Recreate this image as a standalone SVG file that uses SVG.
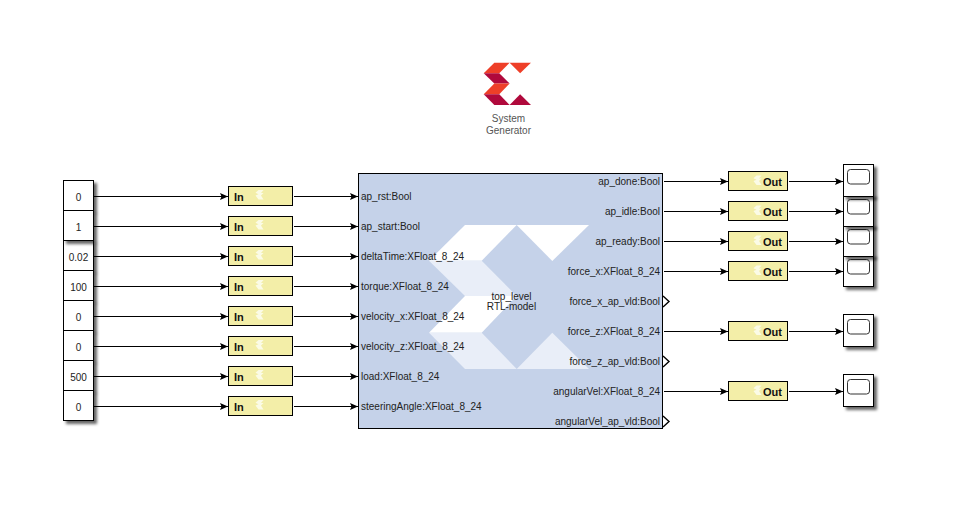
<svg xmlns="http://www.w3.org/2000/svg" width="957" height="515" viewBox="0 0 957 515">
<style>
text{font-family:"Liberation Sans",Arial,sans-serif;font-size:10px;fill:#222}
.m{text-anchor:middle}.e{text-anchor:end}
.k{fill:#fff;stroke:#000;stroke-width:1;filter:url(#s)}
.y{fill:#f3eea8;stroke:#000;stroke-width:1}
.b{font-weight:bold;font-size:11px;fill:#111}
.w{fill:#fff;stroke:#333;stroke-width:1}
.c{fill:none;stroke:#000;stroke-width:1;marker-end:url(#a)}
.p{fill:none;stroke:#000;stroke-width:1.4}
.eps{fill:#fbfbe6}
.g{font-size:10px;fill:#555}
</style>
<defs>
<filter id="s" x="-20%" y="-20%" width="150%" height="150%"><feDropShadow dx="3" dy="3" stdDeviation="1.800" flood-color="#000" flood-opacity=".6"/></filter>
<marker id="a" markerUnits="userSpaceOnUse" markerWidth="8" markerHeight="8" refX="8" refY="4" orient="auto"><path d="M0 .5L8 4L0 7.500L1.500 4Z" fill="#000"/></marker>
<path id="ep" class="eps" d="M3 0H8L5.500 3H8L5.500 5.500L8 9.500H3L0 5.500L3 4.300L0 2.800Z"/>
</defs>
<rect width="957" height="515" fill="#fff"/>
<g id="logo">
<g transform="translate(483.7 62.7) scale(.2955 .294) translate(-429 -225)">
<polygon fill="#ee3f28" points="465,225 516.700,225 481.700,260.700 429,260.700"/>
<polygon fill="#b0093c" points="429,260.700 481.700,260.700 516.700,296 465,296"/>
<polygon fill="#ee3f28" points="465,296 516.700,296 481.700,332.700 429,332.700"/>
<polygon fill="#b0093c" points="429,332.700 481.700,332.700 516.700,369 465,369"/>
<polygon fill="#ee3f28" points="516.700,225 589,225 552.300,261"/>
<polygon fill="#b0093c" points="552.300,332.700 589,369 516.700,369"/>
</g>
<text class="m g" x="508.500" y="121.500">System</text>
<text class="m g" x="508.500" y="133.500">Generator</text>
</g>
<g id="connectors">
<path class="c" d="M94 196.500H228"/><path class="c" d="M94 226.500H228"/><path class="c" d="M94 256.500H228"/><path class="c" d="M94 286.500H228"/><path class="c" d="M94 316.500H228"/><path class="c" d="M94 346.500H228"/><path class="c" d="M94 376.500H228"/><path class="c" d="M94 406.500H228"/>
<path class="c" d="M294 196.500H358"/><path class="c" d="M294 226.500H358"/><path class="c" d="M294 256.500H358"/><path class="c" d="M294 286.500H358"/><path class="c" d="M294 316.500H358"/><path class="c" d="M294 346.500H358"/><path class="c" d="M294 376.500H358"/><path class="c" d="M294 406.500H358"/>
<path class="c" d="M664 181.500H728"/><path class="c" d="M664 211.500H728"/><path class="c" d="M664 241.500H728"/><path class="c" d="M664 271.500H728"/><path class="c" d="M664 331.500H728"/><path class="c" d="M664 391.500H728"/>
<path class="c" d="M789 181.500H843"/><path class="c" d="M789 211.500H843"/><path class="c" d="M789 241.500H843"/><path class="c" d="M789 271.500H843"/><path class="c" d="M789 331.500H843"/><path class="c" d="M789 391.500H843"/>
</g>
<g id="const3"><rect class="k" x="63.500" y="240.500" width="30" height="30"/><text class="m" x="78.500" y="260.500">0.02</text></g>
<g id="const4"><rect class="k" x="63.500" y="270.500" width="30" height="30"/><text class="m" x="78.500" y="290.500">100</text></g>
<g id="const5"><rect class="k" x="63.500" y="300.500" width="30" height="30"/><text class="m" x="78.500" y="320.500">0</text></g>
<g id="const6"><rect class="k" x="63.500" y="330.500" width="30" height="30"/><text class="m" x="78.500" y="350.500">0</text></g>
<g id="const7"><rect class="k" x="63.500" y="360.500" width="30" height="30"/><text class="m" x="78.500" y="380.500">500</text></g>
<g id="const8"><rect class="k" x="63.500" y="390.500" width="30" height="30"/><text class="m" x="78.500" y="410.500">0</text></g>
<g id="const1"><rect class="k" x="63.500" y="180.500" width="30" height="30"/><text class="m" x="78.500" y="200.500">0</text></g>
<g id="const2"><rect class="k" x="63.500" y="210.500" width="30" height="30"/><text class="m" x="78.500" y="230.500">1</text></g>
<g id="in1"><rect class="y" x="228.500" y="186.500" width="64" height="19"/><use href="#ep" x="255.500" y="190"/><text class="b" x="234" y="200.500">In</text></g>
<g id="in2"><rect class="y" x="228.500" y="216.500" width="64" height="19"/><use href="#ep" x="255.500" y="220"/><text class="b" x="234" y="230.500">In</text></g>
<g id="in3"><rect class="y" x="228.500" y="246.500" width="64" height="19"/><use href="#ep" x="255.500" y="250"/><text class="b" x="234" y="260.500">In</text></g>
<g id="in4"><rect class="y" x="228.500" y="276.500" width="64" height="19"/><use href="#ep" x="255.500" y="280"/><text class="b" x="234" y="290.500">In</text></g>
<g id="in5"><rect class="y" x="228.500" y="306.500" width="64" height="19"/><use href="#ep" x="255.500" y="310"/><text class="b" x="234" y="320.500">In</text></g>
<g id="in6"><rect class="y" x="228.500" y="336.500" width="64" height="19"/><use href="#ep" x="255.500" y="340"/><text class="b" x="234" y="350.500">In</text></g>
<g id="in7"><rect class="y" x="228.500" y="366.500" width="64" height="19"/><use href="#ep" x="255.500" y="370"/><text class="b" x="234" y="380.500">In</text></g>
<g id="in8"><rect class="y" x="228.500" y="396.500" width="64" height="19"/><use href="#ep" x="255.500" y="400"/><text class="b" x="234" y="410.500">In</text></g>
<g id="top_level">
<rect x="358.500" y="173.500" width="304" height="255" fill="#c5d2e9" stroke="#000"/>
<polygon fill="#fff" points="465,225 516.700,225 481.700,260.700 429,260.700"/>
<polygon fill="#e9eef8" points="429,260.700 481.700,260.700 516.700,296 465,296"/>
<polygon fill="#fff" points="465,296 516.700,296 481.700,332.700 429,332.700"/>
<polygon fill="#e9eef8" points="429,332.700 481.700,332.700 516.700,369 465,369"/>
<polygon fill="#fff" points="516.700,225 589,225 552.300,261"/>
<polygon fill="#e9eef8" points="552.300,332.700 589,369 516.700,369"/>
<text x="361" y="200">ap_rst:Bool</text>
<text x="361" y="230">ap_start:Bool</text>
<text x="361" y="260">deltaTime:XFloat_8_24</text>
<text x="361" y="290">torque:XFloat_8_24</text>
<text x="361" y="320">velocity_x:XFloat_8_24</text>
<text x="361" y="350">velocity_z:XFloat_8_24</text>
<text x="361" y="380">load:XFloat_8_24</text>
<text x="361" y="410">steeringAngle:XFloat_8_24</text>
<text class="e" x="660" y="185">ap_done:Bool</text>
<text class="e" x="660" y="215">ap_idle:Bool</text>
<text class="e" x="660" y="245">ap_ready:Bool</text>
<text class="e" x="660" y="275">force_x:XFloat_8_24</text>
<text class="e" x="660" y="305">force_x_ap_vld:Bool</text>
<text class="e" x="660" y="335">force_z:XFloat_8_24</text>
<text class="e" x="660" y="365">force_z_ap_vld:Bool</text>
<text class="e" x="660" y="395">angularVel:XFloat_8_24</text>
<text class="e" x="660" y="425">angularVel_ap_vld:Bool</text>
<text class="m" x="511.500" y="300">top_level</text>
<text class="m" x="511.500" y="310">RTL-model</text>
<path class="p" d="M663 296L669 301.500L663 307"/>
<path class="p" d="M663 356L669 361.500L663 367"/>
<path class="p" d="M663 416L669 421.500L663 427"/>
</g>
<g id="out1"><rect class="y" x="728.500" y="171.500" width="59" height="19"/><use href="#ep" x="753.500" y="175.500"/><text class="b" x="763" y="186">Out</text></g>
<g id="out2"><rect class="y" x="728.500" y="201.500" width="59" height="19"/><use href="#ep" x="753.500" y="205.500"/><text class="b" x="763" y="216">Out</text></g>
<g id="out3"><rect class="y" x="728.500" y="231.500" width="59" height="19"/><use href="#ep" x="753.500" y="235.500"/><text class="b" x="763" y="246">Out</text></g>
<g id="out4"><rect class="y" x="728.500" y="261.500" width="59" height="19"/><use href="#ep" x="753.500" y="265.500"/><text class="b" x="763" y="276">Out</text></g>
<g id="out5"><rect class="y" x="728.500" y="321.500" width="59" height="19"/><use href="#ep" x="753.500" y="325.500"/><text class="b" x="763" y="336">Out</text></g>
<g id="out6"><rect class="y" x="728.500" y="381.500" width="59" height="19"/><use href="#ep" x="753.500" y="385.500"/><text class="b" x="763" y="396">Out</text></g>
<g id="scope4"><rect class="k" x="843.500" y="254.500" width="30" height="32"/><rect class="w" x="847.500" y="259.500" width="22" height="14.500" rx="3"/></g>
<g id="scope3"><rect class="k" x="843.500" y="224.500" width="30" height="32"/><rect class="w" x="847.500" y="229.500" width="22" height="14.500" rx="3"/></g>
<g id="scope2"><rect class="k" x="843.500" y="194.500" width="30" height="32"/><rect class="w" x="847.500" y="199.500" width="22" height="14.500" rx="3"/></g>
<g id="scope1"><rect class="k" x="843.500" y="164.500" width="30" height="32"/><rect class="w" x="847.500" y="169.500" width="22" height="14.500" rx="3"/></g>
<g id="scope5"><rect class="k" x="843.500" y="314.500" width="30" height="32"/><rect class="w" x="847.500" y="319.500" width="22" height="14.500" rx="3"/></g>
<g id="scope6"><rect class="k" x="843.500" y="374.500" width="30" height="32"/><rect class="w" x="847.500" y="379.500" width="22" height="14.500" rx="3"/></g>
</svg>
